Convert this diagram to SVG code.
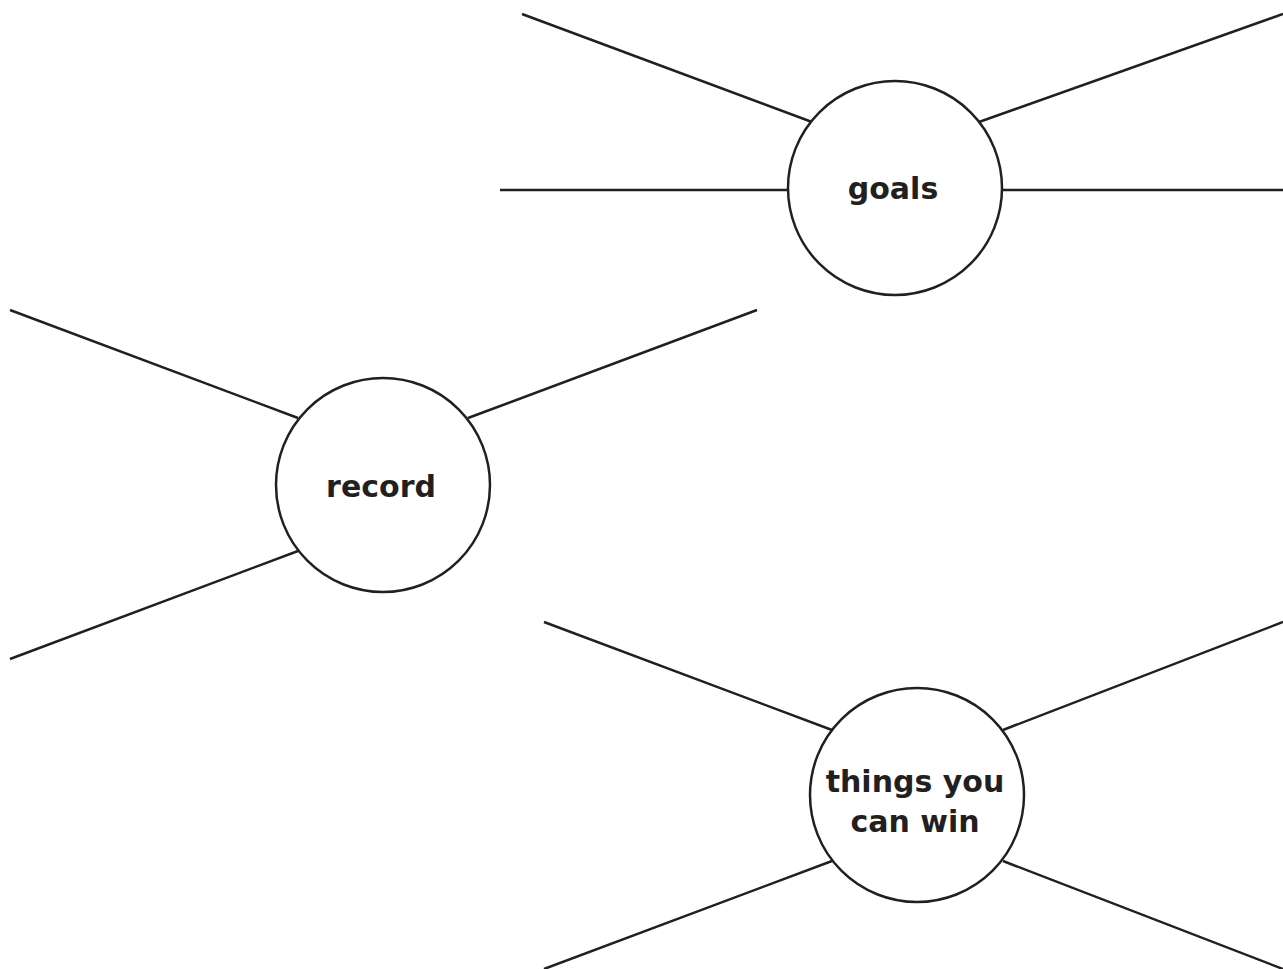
<svg xmlns="http://www.w3.org/2000/svg" width="1283" height="969" viewBox="0 0 1283 969">
<style>
.c{fill:#fff;stroke:#231f20;stroke-width:2.5}
.l{stroke:#231f20;stroke-width:2.5;fill:none}
.t{font-family:"DejaVu Sans",sans-serif;font-weight:bold;font-size:30px;fill:#231f20;text-anchor:middle}
</style>
<rect width="1283" height="969" fill="#fff"/>
<g id="connectors">
<line class="l" x1="522" y1="14" x2="812" y2="122"/>
<line class="l" x1="500" y1="190" x2="787" y2="190"/>
<line class="l" x1="979" y1="122" x2="1283" y2="14"/>
<line class="l" x1="1003" y1="190" x2="1283" y2="190"/>
<line class="l" x1="10" y1="310" x2="298" y2="418"/>
<line class="l" x1="468" y1="418" x2="757" y2="310"/>
<line class="l" x1="298" y1="551" x2="10" y2="659"/>
<line class="l" x1="544" y1="622" x2="832" y2="730"/>
<line class="l" x1="1003" y1="730" x2="1283" y2="622"/>
<line class="l" x1="832" y1="861" x2="544" y2="969"/>
<line class="l" x1="1003" y1="861" x2="1283" y2="969"/>
</g>
<g id="goals">
<circle class="c" cx="895" cy="188" r="107"/>
<text class="t" x="893" y="199">goals</text>
</g>
<g id="record">
<circle class="c" cx="383" cy="485" r="107"/>
<text class="t" x="381" y="497">record</text>
</g>
<g id="things">
<circle class="c" cx="917" cy="795" r="107"/>
<text class="t" x="915" y="792">things you</text>
<text class="t" x="915" y="832">can win</text>
</g>
</svg>
